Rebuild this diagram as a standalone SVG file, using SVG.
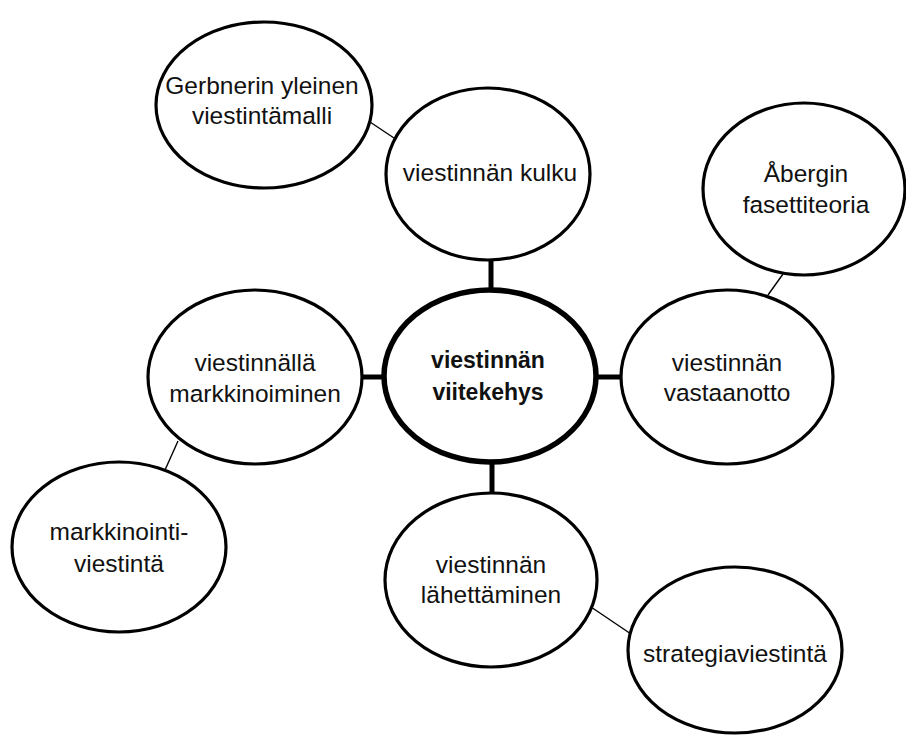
<svg xmlns="http://www.w3.org/2000/svg" width="906" height="735" viewBox="0 0 906 735">
  <style>
    .bubble { fill: #fff; stroke: #000; stroke-width: 3.2; }
    .core { fill: #fff; stroke: #000; stroke-width: 5.5; }
    .link-main { stroke: #000; stroke-width: 5; fill: none; }
    .link-sub { stroke: #000; stroke-width: 1.4; fill: none; }
    text { font-family: "Liberation Sans", Arial, sans-serif; font-size: 24.5px; fill: #111; text-anchor: middle; }
    .bold { font-weight: bold; font-size: 23px; }
  </style>
  <rect width="906" height="735" fill="#fff"/>

  <!-- connectors -->
  <g id="connectors">
    <line class="link-main" x1="491" y1="258" x2="491" y2="292"/>
    <line class="link-main" x1="492" y1="460" x2="492" y2="495"/>
    <line class="link-main" x1="360" y1="377" x2="386" y2="377"/>
    <line class="link-main" x1="595" y1="377" x2="623" y2="377"/>
    <line class="link-sub" x1="370" y1="122" x2="394" y2="138"/>
    <line class="link-sub" x1="783" y1="274" x2="768" y2="295"/>
    <line class="link-sub" x1="178" y1="441" x2="165" y2="470"/>
    <line class="link-sub" x1="591" y1="607" x2="631" y2="634"/>
  </g>

  <!-- central concept -->
  <g id="viitekehys">
    <ellipse class="core" cx="490" cy="376" rx="106" ry="86"/>
    <text class="bold" x="488" y="368">viestinnän</text>
    <text class="bold" x="488" y="400">viitekehys</text>
  </g>

  <g id="kulku">
    <ellipse class="bubble" cx="488" cy="174" rx="102" ry="86"/>
    <text x="490" y="181">viestinnän kulku</text>
  </g>

  <g id="gerbner">
    <ellipse class="bubble" cx="264" cy="105" rx="108" ry="83"/>
    <text x="262" y="94">Gerbnerin yleinen</text>
    <text x="262" y="124">viestintämalli</text>
  </g>

  <g id="abergin">
    <ellipse class="bubble" cx="804" cy="189" rx="101" ry="86"/>
    <text x="806" y="182">Åbergin</text>
    <text x="806" y="213">fasettiteoria</text>
  </g>

  <g id="vastaanotto">
    <ellipse class="bubble" cx="727" cy="377" rx="106" ry="87"/>
    <text x="727" y="371">viestinnän</text>
    <text x="727" y="401">vastaanotto</text>
  </g>

  <g id="markkinoiminen">
    <ellipse class="bubble" cx="255" cy="377" rx="107" ry="87"/>
    <text x="255" y="371">viestinnällä</text>
    <text x="255" y="402">markkinoiminen</text>
  </g>

  <g id="markkinointiviestinta">
    <ellipse class="bubble" cx="119" cy="547" rx="107" ry="85"/>
    <text x="119" y="540">markkinointi-</text>
    <text x="119" y="572">viestintä</text>
  </g>

  <g id="lahettaminen">
    <ellipse class="bubble" cx="491" cy="580" rx="106" ry="87"/>
    <text x="491" y="573">viestinnän</text>
    <text x="491" y="603">lähettäminen</text>
  </g>

  <g id="strategiaviestinta">
    <ellipse class="bubble" cx="735" cy="650" rx="107" ry="83"/>
    <text x="735" y="662">strategiaviestintä</text>
  </g>
</svg>
